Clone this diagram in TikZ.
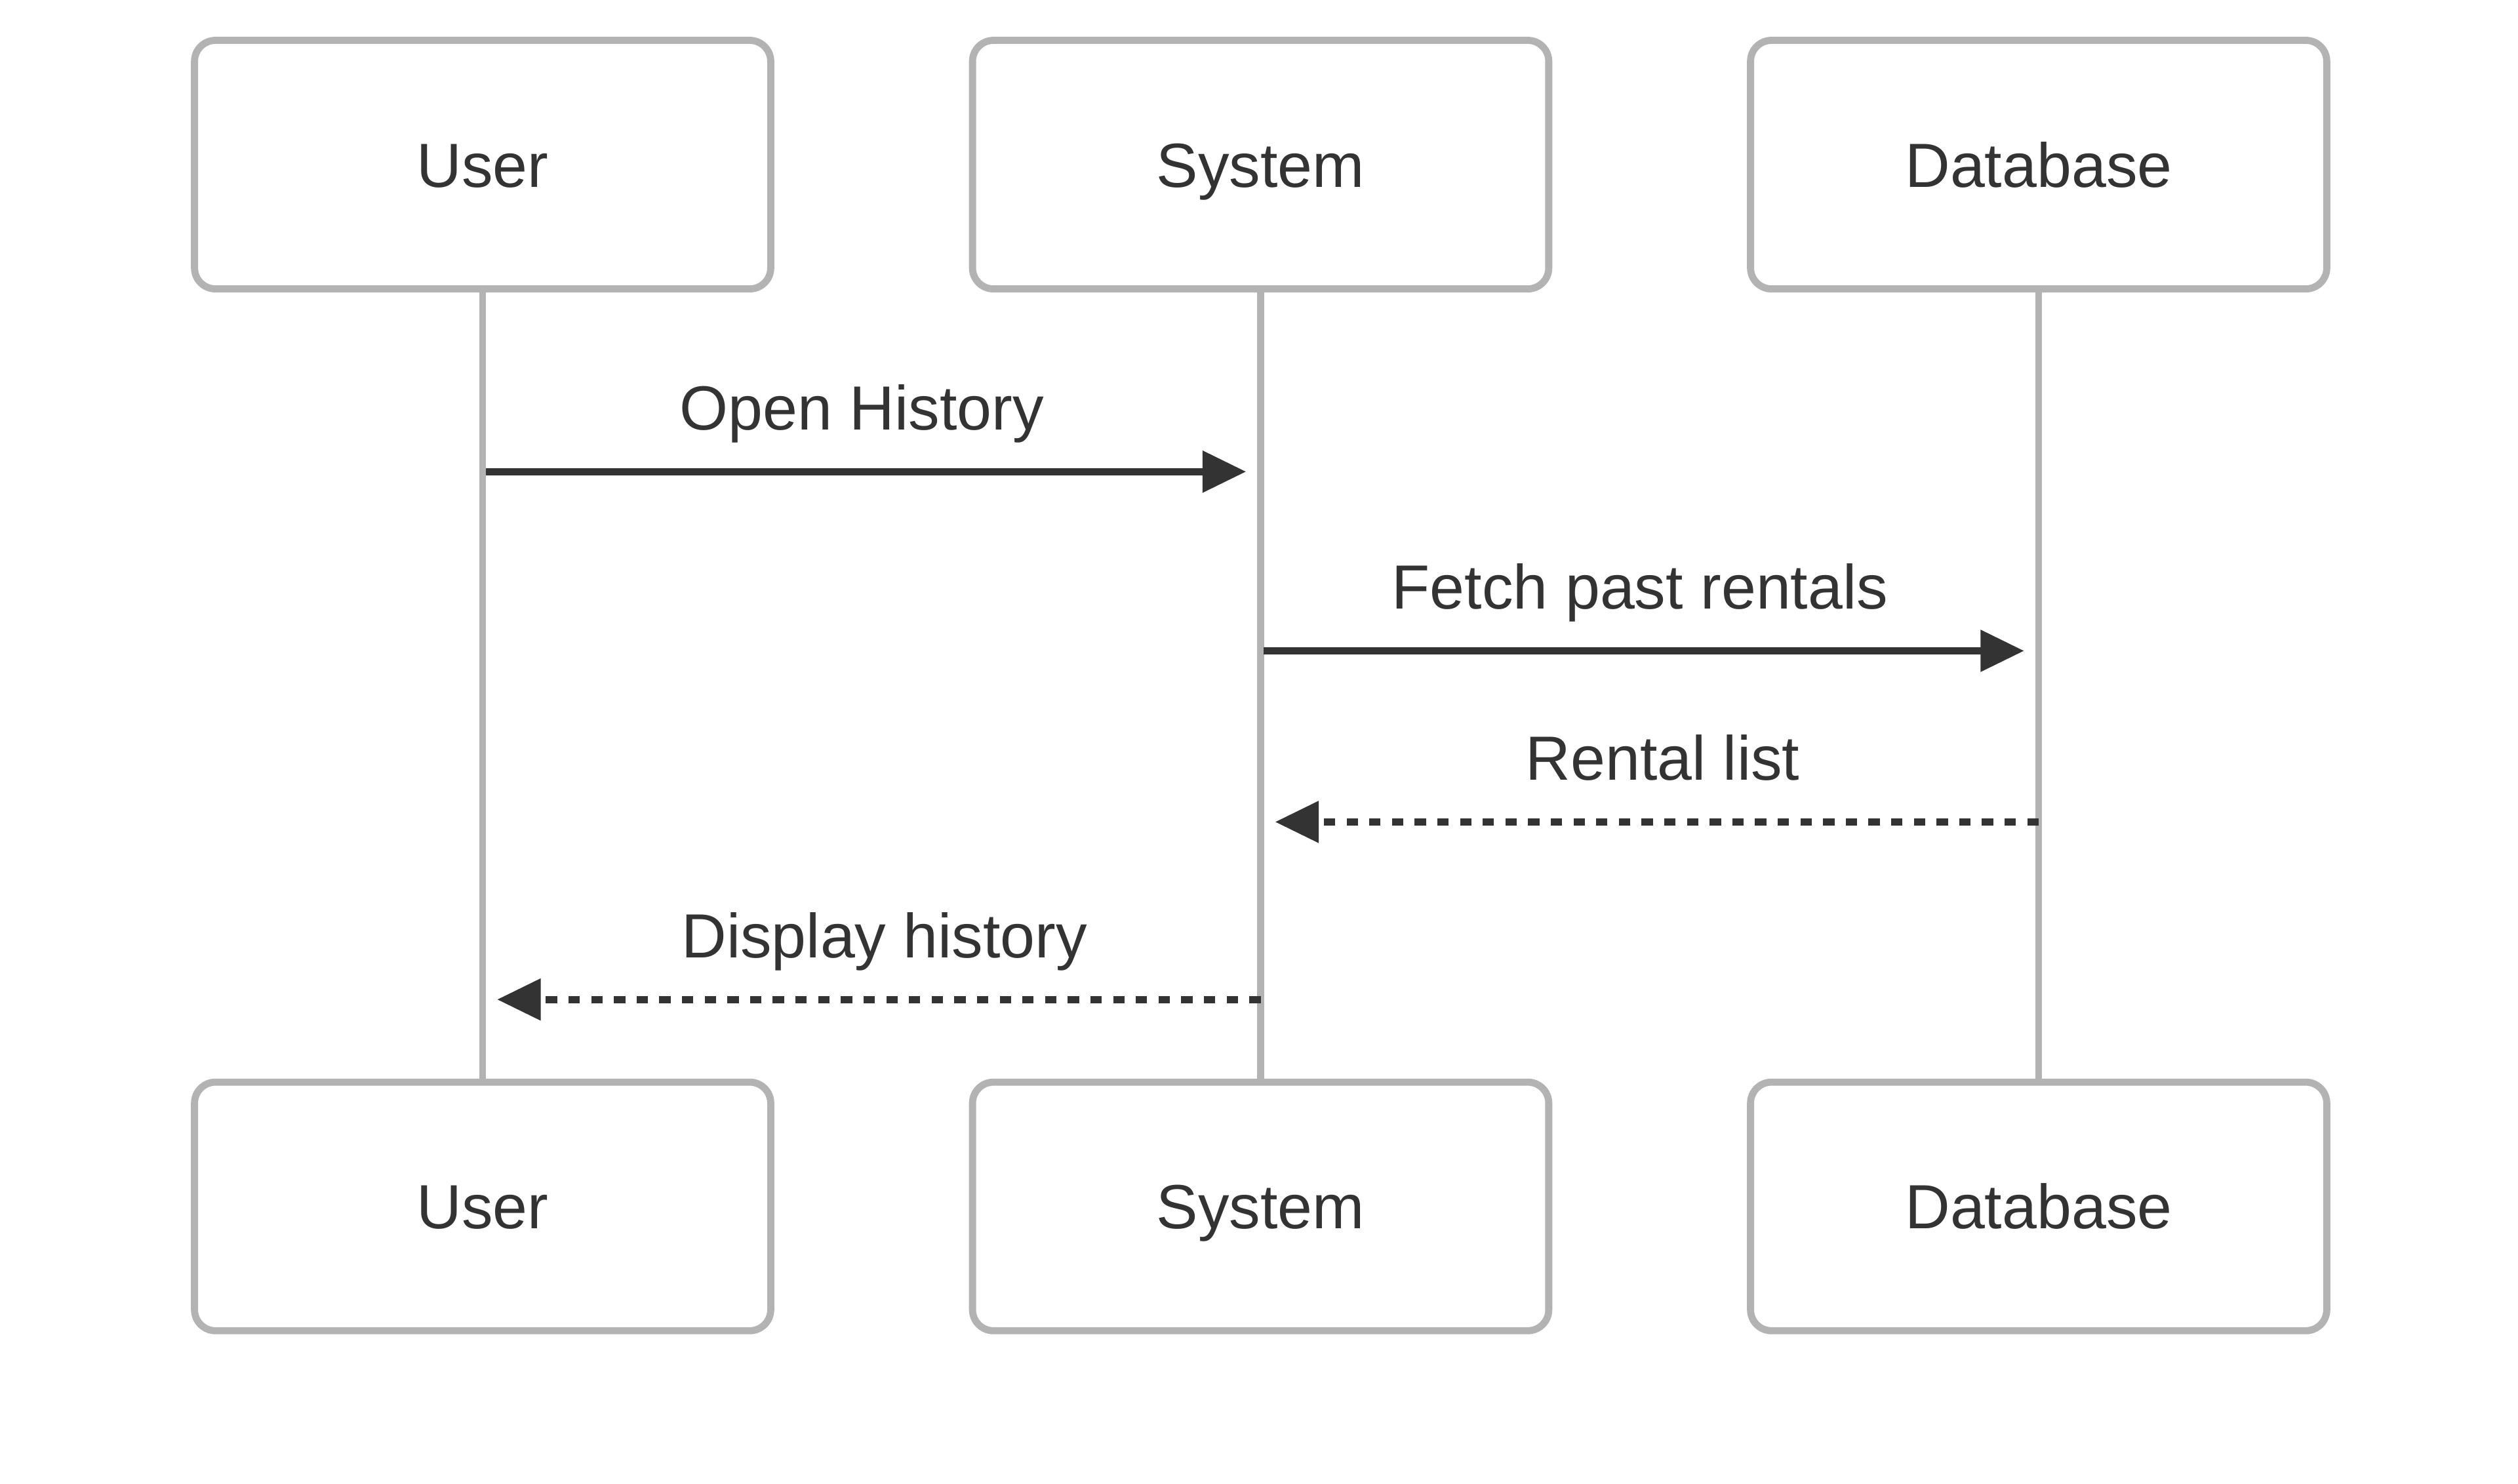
\documentclass[tikz,border=0pt]{standalone}
\usepackage{fontspec}
\setmainfont{Liberation Sans}
\usepackage{xcolor}
\usetikzlibrary{arrows.meta}
\usetikzlibrary{positioning}
\definecolor{ink}{HTML}{333333}
\definecolor{rim}{HTML}{B3B3B3}
\tikzset{
  actor/.style={draw=rim,line width=1.25pt,rounded corners=.13cm,
    minimum width=3.57cm,minimum height=1.54cm,text=ink,
    text height=7.9pt,text depth=0pt,
    font=\fontsize{11}{13}\selectfont},
  life/.style={draw=rim,line width=1.2pt},
  msg/.style={draw=ink,line width=1.25pt,
    -{Triangle[length=.27cm,width=.25cm]}},
  reply/.style={msg,dash pattern=on 2pt off 2pt},
  lbl/.style={text=ink,font=\fontsize{11}{13}\selectfont,anchor=base,yshift=.26cm}
}

\begin{document}
\begin{tikzpicture}
  \useasboundingbox (0,0) rectangle (15.6,-9.19);
  \node (us) [actor] at (2.99,-1.02) {User};
  \node (sy) [actor] at (7.81,-1.02) {System};
  \node (db) [actor] at (12.63,-1.02) {Database};
  \node (usb) [actor,below=4.87cm of us] {User};
  \node (syb) [actor,below=4.87cm of sy] {System};
  \node (dbb) [actor,below=4.87cm of db] {Database};
  \draw[life] (us) -- (usb);
  \draw[life] (sy) -- (syb);
  \draw[life] (db) -- (dbb);

  \path (us.south) +(0,-1.11) coordinate (ohs);
  \path (sy.south) +(0,-1.11) coordinate (ohe);
  \draw[msg,shorten <=.02cm,shorten >=.09cm] (ohs) -- (ohe)
    node (oh) [lbl,midway,xshift=-.06cm] {Open History};
  \path (sy.south) +(0,-2.22) coordinate (fps);
  \path (db.south) +(0,-2.22) coordinate (fpe);
  \draw[msg,shorten <=.02cm,shorten >=.09cm] (fps) -- (fpe)
    node (fp) [lbl,midway,xshift=-.06cm] {Fetch past rentals};
  \path (db.south) +(0,-3.28) coordinate (rls);
  \path (sy.south) +(0,-3.28) coordinate (rle);
  \draw[reply,shorten >=.09cm] (rls) -- (rle)
    node (rl) [lbl,midway,xshift=.08cm] {Rental list};
  \path (sy.south) +(0,-4.38) coordinate (dhs);
  \path (us.south) +(0,-4.38) coordinate (dhe);
  \draw[reply,shorten >=.09cm] (dhs) -- (dhe)
    node (dh) [lbl,midway,xshift=.08cm] {Display history};
\end{tikzpicture}
\end{document}
